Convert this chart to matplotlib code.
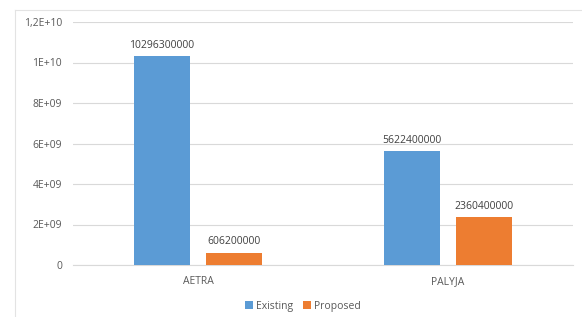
import matplotlib
matplotlib.use("Agg")
import matplotlib.pyplot as plt
import numpy as np
from matplotlib.lines import Line2D

categories = ["AETRA", "PALYJA"]
existing = [10296300000, 5622400000]
proposed = [606200000, 2360400000]
yticks = [0, 2e9, 4e9, 6e9, 8e9, 1e10, 1.2e10]
ytick_labels = ["0", "2E+09", "4E+09", "6E+09", "8E+09", "1E+10", "1,2E+10"]

plt.rcParams['font.family'] = ['Open Sans', 'DejaVu Sans']
grey = "#595959"

fig = plt.figure(figsize=(5.82, 3.17), dpi=100)
# chart area border: only top and left edges visible
fy = 1 - 9.5/317
fx = 14.5/582
fig.lines.append(Line2D([fx, 1], [fy, fy], transform=fig.transFigure,
                        color="#e3e3e3", linewidth=0.8))
fig.lines.append(Line2D([fx, fx], [0, fy], transform=fig.transFigure,
                        color="#e3e3e3", linewidth=0.8))
ax = fig.add_axes([73/582, 1 - 265/317, 500/582, 243/317])

x = np.arange(len(categories))
w = 0.224
off = 0.144
b1 = ax.bar(x - off, existing, w, color="#5B9BD5", label="Existing", zorder=3)
b2 = ax.bar(x + off, proposed, w, color="#ED7D31", label="Proposed", zorder=3)

for bars, vals in ((b1, existing), (b2, proposed)):
    for r, v in zip(bars, vals):
        ax.annotate(str(v), (r.get_x() + r.get_width() / 2, v),
                    xytext=(0, 4), textcoords="offset points",
                    ha="center", va="bottom", fontsize=7.5, color="#404040")

ax.set_xlim(-0.5, 1.5)
ax.set_ylim(0, 1.2e10)
ax.set_yticks(yticks)
ax.set_yticklabels(ytick_labels)
ax.set_xticks(x)
ax.set_xticklabels(categories)
ax.yaxis.grid(True, color="#d9d9d9", linewidth=0.8, zorder=0)
ax.tick_params(length=0, labelsize=7.5, colors=grey)
ax.tick_params(axis="y", pad=8)
ax.tick_params(axis="x", pad=8)
for s in ["top", "right", "left"]:
    ax.spines[s].set_visible(False)
ax.spines["bottom"].set_color("#d9d9d9")

fig.legend(loc="center", bbox_to_anchor=(303/582, 1 - 306/317), ncol=2,
           frameon=False, fontsize=7.5, handlelength=0.7, handleheight=0.7,
           handletextpad=0.3, columnspacing=1.0, labelcolor=grey)

fig.savefig("out.png", dpi=100)
